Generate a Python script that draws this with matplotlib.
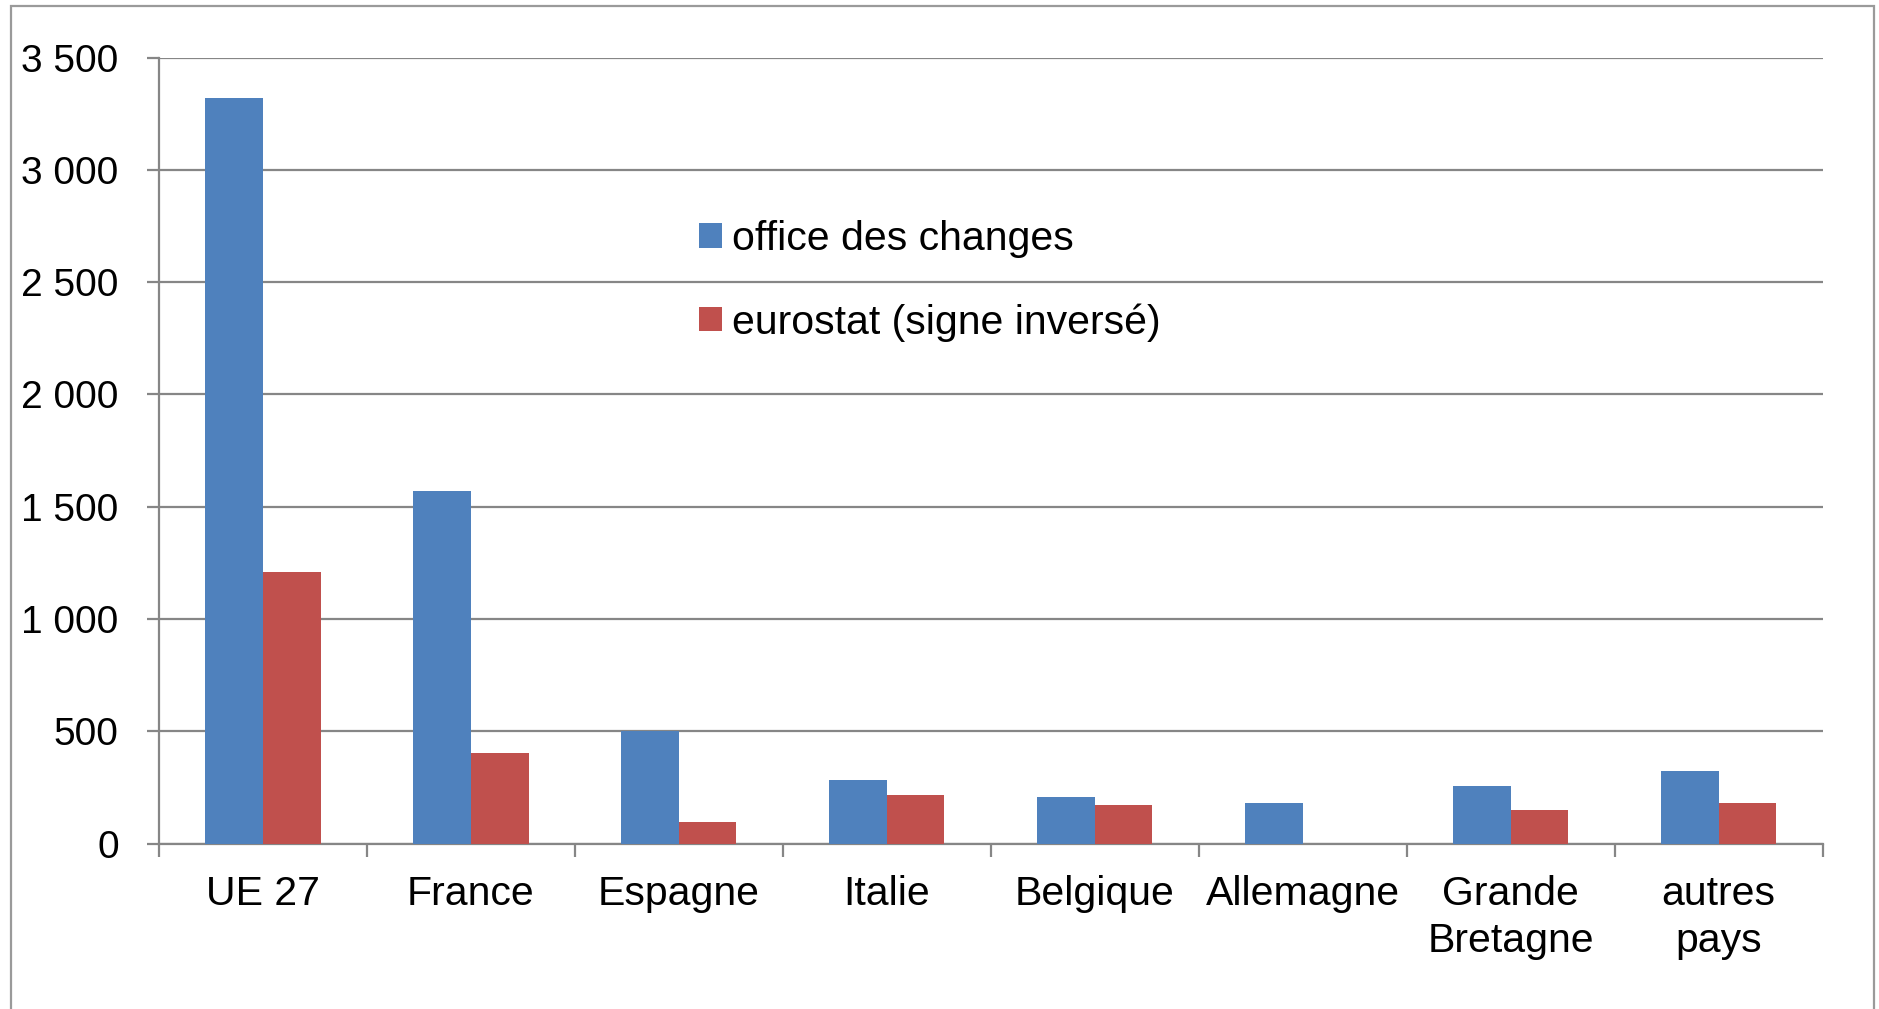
"""
Grouped bar chart: office des changes vs eurostat (signe inversé), by country.
"""
import matplotlib
matplotlib.use('Agg')
import matplotlib.pyplot as plt
import numpy as np
from matplotlib.patches import Rectangle
from matplotlib.ticker import FuncFormatter

plt.rcParams['font.family'] = ['Liberation Sans', 'DejaVu Sans']

# data
categories = ['UE 27', 'France', 'Espagne', 'Italie', 'Belgique', 'Allemagne',
              'Grande\nBretagne', 'autres\npays']
office = [3320, 1570, 500, 282, 205, 181, 258, 325]
eurostat = [1210, 405, 95, 217, 171, 0, 149, 181]
labels = ['office des changes', 'eurostat (signe inversé)']
yticks = [0, 500, 1000, 1500, 2000, 2500, 3000, 3500]

blue = '#4F81BD'
red = '#C0504D'
grey = '#868686'
fs = 28
fs_big = 29.5

fig = plt.figure(figsize=(18.79, 10.09), dpi=100)
ax = fig.add_axes([0.0846, 0.164, 0.970 - 0.0846, 0.943 - 0.164])

x = np.arange(len(categories))
w = 0.277
ax.bar(x - w / 2, office, w, color=blue, label=labels[0], zorder=3)
ax.bar(x + w / 2, eurostat, w, color=red, label=labels[1], zorder=3)

ax.set_xlim(-0.5, len(categories) - 0.5)
ax.set_ylim(0, 3500)
ax.set_yticks(yticks)
ax.yaxis.set_major_formatter(FuncFormatter(lambda v, p: f'{int(v):,}'.replace(',', ' ')))
ax.yaxis.grid(True, color=grey, lw=1.6, zorder=0)
ax.set_axisbelow(True)

# ticks at category boundaries, labels at centres
ax.set_xticks(np.arange(len(categories) + 1) - 0.5)
ax.set_xticklabels([])
ax.set_xticks(x, minor=True)
ax.set_xticklabels(categories, minor=True, fontsize=fs_big, linespacing=1.27)
ax.tick_params(axis='x', which='major', direction='out', length=9, width=1.6, color=grey)
ax.tick_params(axis='x', which='minor', length=0, pad=23)
ax.tick_params(axis='y', direction='out', length=9, width=1.6, color=grey,
               labelsize=fs, pad=20)

for s in ['top', 'right']:
    ax.spines[s].set_visible(False)
for s in ['left', 'bottom']:
    ax.spines[s].set_color(grey)
    ax.spines[s].set_linewidth(1.6)

ax.legend(loc='upper left', bbox_to_anchor=(0.372, 0.782), bbox_transform=fig.transFigure,
          frameon=False, fontsize=fs_big, handlelength=0.55, handleheight=0.55,
          handletextpad=0.25, labelspacing=1.1, borderpad=0, borderaxespad=0)

# outer chart border (bottom edge cut off in the original)
fig.add_artist(Rectangle((11 / 1879, -0.05), (1874 - 11) / 1879, 1 - 6 / 1009 + 0.05,
                         transform=fig.transFigure, fill=False, ec='#9a9a9a', lw=1.6))

fig.savefig('out.png', dpi=100)
